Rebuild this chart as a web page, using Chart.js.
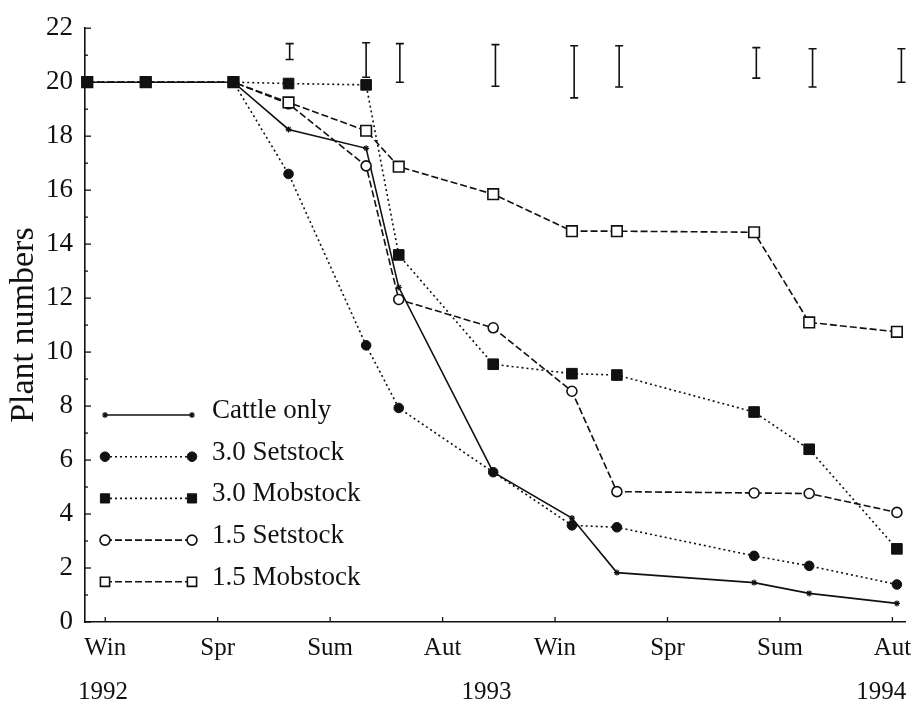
<!DOCTYPE html>
<html><head><meta charset="utf-8">
<script src="https://cdn.jsdelivr.net/npm/chart.js@4.4.0/dist/chart.umd.min.js"></script>
<style>html,body{margin:0;padding:0;background:#fff;}#wrap{width:915px;height:709px;position:relative}</style>
</head><body><div id="wrap"><canvas id="c" width="915" height="709"></canvas></div>
<script>
// x values are in "season" units: 0 = Win 1992, 1 = Spr, ...
const seasonTicks = [0, 1, 2, 3, 4, 5, 6, 7];
const seasonLabels = ['Win', 'Spr', 'Sum', 'Aut', 'Win', 'Spr', 'Sum', 'Aut'];
const yearPositions = [-0.02, 3.39, 6.9];
const yearLabels = ['1992', '1993', '1994'];
const sampleTimes = [-0.16, 0.36, 1.14, 1.63, 2.32, 2.61, 3.45, 4.15, 4.55, 5.77, 6.26, 7.04];
const cattleOnly = [20, 20, 20, 18.25, 17.55, 12.4, 5.55, 3.85, 1.83, 1.46, 1.06, 0.69];
const set30 = [20, 20, 20, 16.6, 10.25, 7.93, 5.55, 3.58, 3.51, 2.45, 2.08, 1.39];
const mob30 = [20, 20, 20, 19.95, 19.9, 13.6, 9.55, 9.2, 9.15, 7.78, 6.4, 2.71];
const set15 = [20, 20, 20, 19.2, 16.9, 11.95, 10.9, 8.55, 4.83, 4.78, 4.76, 4.06];
const mob15 = [20, 20, 20, 19.25, 18.2, 16.87, 15.85, 14.48, 14.48, 14.44, 11.1, 10.75];
const lsdTimes = [1.64, 2.32, 2.62, 3.47, 4.17, 4.57, 5.79, 6.29, 7.08];
const lsdLow = [20.84, 20.18, 20.0, 19.85, 19.42, 19.82, 20.15, 19.82, 20.0];
const lsdHigh = [21.43, 21.46, 21.43, 21.39, 21.35, 21.35, 21.28, 21.24, 21.24];

const INK = '#111';
const SERIF = '"Liberation Serif", "Times New Roman", serif';
Chart.defaults.font.family = SERIF;
Chart.defaults.color = INK;

function pts(vals) { return vals.map((v, i) => ({ x: sampleTimes[i], y: v })); }

const datasets = [
  { label: 'Cattle only', data: pts(cattleOnly), borderColor: INK, borderWidth: 1.6, borderDash: [],
    pointStyle: 'star', pointRadius: 3, pointBorderWidth: 1.2, pointBackgroundColor: INK, pointBorderColor: INK, order: 4 },
  { label: '3.0 Setstock', data: pts(set30), borderColor: INK, borderWidth: 1.6, borderDash: [2, 3],
    pointStyle: 'circle', pointRadius: 4.8, pointBorderWidth: 1, pointBackgroundColor: INK, pointBorderColor: INK, order: 3 },
  { label: '3.0 Mobstock', data: pts(mob30), borderColor: INK, borderWidth: 1.6, borderDash: [2, 3],
    pointStyle: 'rect', pointRadius: 7.5, pointBorderWidth: 1, pointBackgroundColor: INK, pointBorderColor: INK, order: 0 },
  { label: '1.5 Setstock', data: pts(set15), borderColor: INK, borderWidth: 1.6, borderDash: [7, 3],
    pointStyle: 'circle', pointRadius: 5, pointBorderWidth: 1.6, pointBackgroundColor: '#fff', pointBorderColor: INK, order: 2 },
  { label: '1.5 Mobstock', data: pts(mob15), borderColor: INK, borderWidth: 1.6, borderDash: [7, 3],
    pointStyle: 'rect', pointRadius: 7.5, pointBorderWidth: 1.6, pointBackgroundColor: '#fff', pointBorderColor: INK, order: 1 }
];

const decorPlugin = {
  id: 'decor',
  beforeDatasetsDraw(chart) {
    const { ctx } = chart;
    const xs = chart.scales.x, ys = chart.scales.y;
    ctx.save();
    ctx.strokeStyle = INK;
    ctx.lineWidth = 1.3;
    // inside ticks on y axis
    for (let v = ys.min; v <= ys.max; v++) {
      const py = ys.getPixelForValue(v);
      const len = (v % 2 === 0) ? 6 : 3;
      ctx.beginPath(); ctx.moveTo(xs.left, py); ctx.lineTo(xs.left + len, py); ctx.stroke();
    }
    // inside ticks on x axis
    seasonTicks.forEach(v => {
      const px = xs.getPixelForValue(v);
      ctx.beginPath(); ctx.moveTo(px, ys.bottom); ctx.lineTo(px, ys.bottom - 5); ctx.stroke();
    });
    // LSD bars at top
    ctx.lineWidth = 1.6;
    lsdTimes.forEach((t, i) => {
      const px = xs.getPixelForValue(t);
      const y1 = ys.getPixelForValue(lsdLow[i]);
      const y2 = ys.getPixelForValue(lsdHigh[i]);
      ctx.beginPath();
      ctx.moveTo(px, y1); ctx.lineTo(px, y2);
      ctx.moveTo(px - 4, y1); ctx.lineTo(px + 4, y1);
      ctx.moveTo(px - 4, y2); ctx.lineTo(px + 4, y2);
      ctx.stroke();
    });
    ctx.restore();
  },
  afterDraw(chart) {
    const { ctx } = chart;
    ctx.save();
    const rowY0 = 415, rowStep = 41.7, x1 = 105, x2 = 192, tx = 212;
    chart.data.datasets.forEach((ds, i) => {
      const y = rowY0 + i * rowStep;
      ctx.strokeStyle = ds.borderColor;
      ctx.lineWidth = ds.borderWidth;
      ctx.setLineDash(ds.borderDash || []);
      ctx.beginPath(); ctx.moveTo(x1, y); ctx.lineTo(x2, y); ctx.stroke();
      ctx.setLineDash([]);
      const opts = { pointStyle: ds.pointStyle, radius: Math.min(ds.pointRadius, 6.5), rotation: 0, borderWidth: ds.pointBorderWidth };
      ctx.fillStyle = ds.pointBackgroundColor; ctx.strokeStyle = ds.pointBorderColor; ctx.lineWidth = ds.pointBorderWidth;
      Chart.helpers.drawPoint(ctx, opts, x1, y);
      ctx.fillStyle = ds.pointBackgroundColor; ctx.strokeStyle = ds.pointBorderColor; ctx.lineWidth = ds.pointBorderWidth;
      Chart.helpers.drawPoint(ctx, opts, x2, y);
      ctx.fillStyle = INK;
      ctx.font = '27px ' + SERIF;
      ctx.textAlign = 'left';
      ctx.textBaseline = 'alphabetic';
      ctx.fillText(ds.label, tx, y + 3);
    });
    ctx.restore();
  }
};

function noSidePad(s) { s.paddingLeft = 0; s.paddingRight = 0; }

new Chart(document.getElementById('c'), {
  type: 'line',
  data: { datasets },
  options: {
    responsive: false,
    animation: false,
    devicePixelRatio: 1,
    layout: { padding: { top: 20, right: 8, bottom: 0, left: 0 } },
    elements: { line: { tension: 0, fill: false } },
    datasets: { line: { clip: false } },
    plugins: { legend: { display: false }, tooltip: { enabled: false } },
    scales: {
      x: {
        type: 'linear', position: 'bottom', min: -0.18, max: 7.12,
        afterBuildTicks: s => { s.ticks = seasonTicks.map(v => ({ value: v })); },
        afterFit: s => { s.height = 40; noSidePad(s); },
        ticks: { autoSkip: false, maxRotation: 0, padding: 11, font: { size: 25 }, color: INK,
          callback: (v, i) => seasonLabels[i] },
        grid: { display: false, drawTicks: false },
        border: { display: true, color: INK, width: 1.6 }
      },
      x2: {
        type: 'linear', position: 'bottom', min: -0.18, max: 7.12,
        afterBuildTicks: s => { s.ticks = yearPositions.map(v => ({ value: v })); },
        afterFit: s => { s.height = 47; noSidePad(s); },
        ticks: { autoSkip: false, maxRotation: 0, padding: 15, font: { size: 25 }, color: INK,
          callback: (v, i) => yearLabels[i] },
        grid: { display: false, drawTicks: false },
        border: { display: false }
      },
      y: {
        type: 'linear', min: 0, max: 22,
        afterFit: s => { s.width = 85; },
        ticks: { stepSize: 2, padding: 12, font: { size: 27 }, color: INK },
        grid: { display: false, drawTicks: false },
        border: { display: true, color: INK, width: 1.6 },
        title: { display: true, text: 'Plant numbers', font: { size: 34 }, color: INK, padding: { top: 4, bottom: 0 } }
      }
    }
  },
  plugins: [decorPlugin]
});
</script>
</body></html>
